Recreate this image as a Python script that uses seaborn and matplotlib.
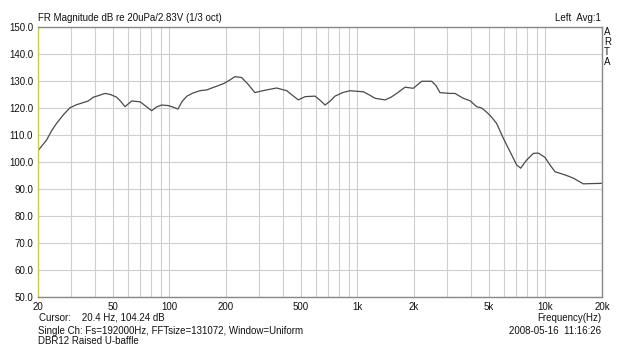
import pandas as pd
import numpy as np
import matplotlib.pyplot as plt
import seaborn as sns
from matplotlib.ticker import FixedLocator, NullFormatter

# Datos (frecuencia en Hz, magnitud en dB)
frecuencia = [20, 21, 22.2, 23.5, 25.1, 27.3, 29.6, 32.0, 34.8, 37.0, 39.4, 42.0,
              45.4, 48.5, 52.4, 55.0, 58.1, 63.0, 69.8, 74.5, 80.5, 85.5, 91.0,
              98.6, 105, 111, 117, 124, 133, 145, 158, 168, 179, 195, 210, 223,
              242, 262, 285, 305, 329, 372, 421, 455, 485, 527, 595, 635, 673, 715,
              760, 835, 914, 1076, 1160, 1241, 1403, 1510, 1618, 1792, 1983, 2198,
              2483, 2620, 2748, 3105, 3304, 3656, 3972, 4308, 4581, 4900, 5175,
              5500, 5970, 6488, 7034, 7390, 7940, 8630, 9170, 9950, 10600, 11250,
              12220, 13200, 14090, 15920, 17500, 20000]
magnitud = [104.2, 106.0, 108.1, 111.3, 114.3, 117.5, 120.1, 121.2, 122.0, 122.6,
            124.0, 124.6, 125.4, 125.0, 124.0, 122.5, 120.5, 122.6, 122.3, 120.8,
            119.0, 120.4, 121.1, 120.9, 120.3, 119.6, 122.5, 124.4, 125.5, 126.4,
            126.7, 127.4, 128.1, 129.1, 130.4, 131.6, 131.3, 128.8, 125.7, 126.2,
            126.7, 127.4, 126.4, 124.5, 123.0, 124.2, 124.4, 122.8, 121.1, 122.5,
            124.4, 125.7, 126.4, 126.0, 124.8, 123.6, 123.0, 124.0, 125.4, 127.7,
            127.3, 129.9, 129.9, 128.3, 125.7, 125.4, 125.4, 123.6, 122.7, 120.5,
            120.0, 118.3, 116.6, 114.3, 108.8, 103.8, 98.9, 97.7, 100.7, 103.2,
            103.3, 101.7, 98.8, 96.4, 95.6, 94.8, 94.0, 91.9, 92.0, 92.1]

ticks_x = [20, 50, 100, 200, 500, 1000, 2000, 5000, 10000, 20000]
etiquetas_x = ['20', '50', '100', '200', '500', '1k', '2k', '5k', '10k', '20k']
ticks_y = list(range(50, 151, 10))

df = pd.DataFrame({'f': frecuencia, 'db': magnitud})

sns.set_style("white")
plt.rcParams['font.family'] = ['Liberation Sans', 'DejaVu Sans']

fig = plt.figure(figsize=(6.39, 3.47), dpi=100)
ax = fig.add_axes([38 / 639, 1 - 297 / 347, 564 / 639, 270 / 347])

sns.lineplot(data=df, x='f', y='db', ax=ax, color='#4a4a4a', linewidth=0.9)
ax.set_xscale('log')
ax.set_xlim(20, 20000)
ax.set_ylim(50, 150)

# Rejilla: lineas mayores y menores en el eje logaritmico
minor = [m * d for d in (10, 100, 1000, 10000) for m in range(2, 10)]
minor = [v for v in minor if 20 < v < 20000]
ax.xaxis.set_minor_locator(FixedLocator(minor))
ax.xaxis.set_minor_formatter(NullFormatter())
ax.set_xticks(ticks_x)
ax.set_xticklabels(etiquetas_x)
ax.set_yticks(ticks_y)
ax.set_yticklabels([f'{v:.1f}' for v in ticks_y])
ax.grid(True, which='both', color='#cfcfcf', linewidth=0.8)
ax.tick_params(axis='both', which='both', length=0, labelsize=7, colors='#111111', pad=3.5)
ax.set_xlabel('')
ax.set_ylabel('')

for lado in ['top', 'bottom', 'right']:
    ax.spines[lado].set_color('#888888')
    ax.spines[lado].set_linewidth(1)
ax.spines['left'].set_color('#c8cc50')
ax.spines['left'].set_linewidth(1)

fs = 7
col = '#111111'
fig.text(38 / 639, 1 - 18 / 347, 'FR Magnitude dB re 20uPa/2.83V (1/3 oct)', fontsize=fs, va='center', color=col)
fig.text(601 / 639, 1 - 18 / 347, 'Left  Avg:1', fontsize=fs, va='center', ha='right', color=col)
for i, letra in enumerate('ARTA'):
    fig.text(604 / 639, 1 - (32 + i * 10) / 347, letra, fontsize=fs, va='center', color=col)

fig.text(39 / 639, 1 - 318 / 347, 'Cursor:    20.4 Hz, 104.24 dB', fontsize=fs, va='center', color=col)
fig.text(38 / 639, 1 - 331 / 347, 'Single Ch: Fs=192000Hz, FFTsize=131072, Window=Uniform', fontsize=fs, va='center', color=col)
fig.text(38 / 639, 1 - 341 / 347, 'DBR12 Raised U-baffle', fontsize=fs, va='center', color=col)
fig.text(601 / 639, 1 - 318 / 347, 'Frequency(Hz)', fontsize=fs, va='center', ha='right', color=col)
fig.text(601 / 639, 1 - 331 / 347, '2008-05-16  11:16:26', fontsize=fs, va='center', ha='right', color=col)

plt.savefig('out.png', dpi=100)
